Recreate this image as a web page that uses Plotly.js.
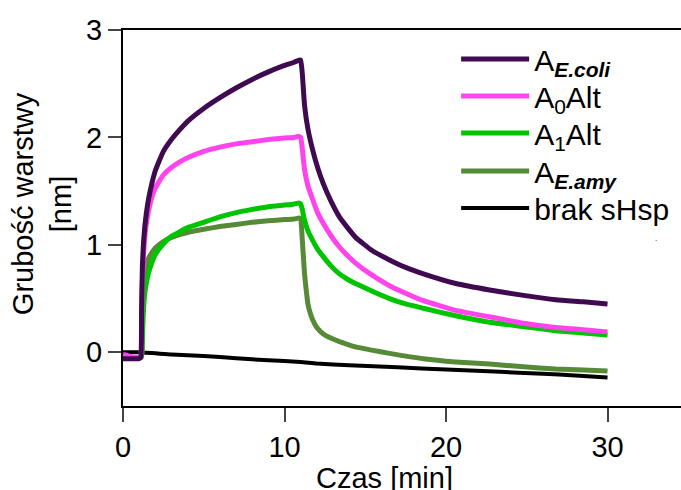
<!DOCTYPE html>
<html>
<head>
<meta charset="utf-8">
<script src="https://cdn.plot.ly/plotly-3.0.1.min.js"></script>
<style>html,body{margin:0;padding:0;background:#fff;}#chart{width:681px;height:490px;}</style>
</head>
<body>
<div id="chart"></div>
<script>
// Series names
const seriesNames = ['A<sub><b><i>E.coli</i></b></sub>', 'A<sub>0</sub>Alt', 'A<sub>1</sub>Alt', 'A<sub><b><i>E.amy</i></b></sub>', 'brak sHsp'];

// A E.coli
const tEcoli = [0, 0.5, 1.0, 1.1, 1.15, 1.2, 1.27, 1.35, 1.45, 1.6, 1.8, 2.0, 2.5, 3.0, 3.5, 4.0, 5.0, 6.0, 7.0, 8.0, 9.0, 10.0, 10.6, 10.9, 11.0, 11.1, 11.24, 11.45, 11.75, 12.05, 12.4, 12.9, 13.4, 13.9, 14.4, 15.4, 16.5, 17.5, 18.6, 20.6, 22.7, 24.8, 26.8, 28.5, 30];
const yEcoli = [-0.06, -0.06, -0.06, -0.05, 0.4, 0.8, 1.02, 1.17, 1.3, 1.44, 1.58, 1.69, 1.87, 1.98, 2.07, 2.15, 2.27, 2.37, 2.46, 2.54, 2.61, 2.67, 2.70, 2.72, 2.72, 2.6, 2.3, 2.08, 1.88, 1.72, 1.57, 1.4, 1.26, 1.16, 1.07, 0.95, 0.86, 0.79, 0.73, 0.64, 0.58, 0.53, 0.49, 0.47, 0.45];

// A0Alt
const tA0 = [0, 0.5, 1.0, 1.1, 1.15, 1.2, 1.27, 1.35, 1.45, 1.6, 1.8, 2.0, 2.5, 3.0, 3.5, 4.0, 5.0, 6.0, 7.0, 8.0, 9.0, 10.0, 10.6, 10.9, 11.0, 11.1, 11.24, 11.45, 11.75, 12.05, 12.4, 12.9, 13.4, 13.9, 14.4, 15.4, 16.5, 17.5, 18.6, 20.6, 22.7, 24.8, 26.8, 28.5, 30];
const yA0 = [-0.02, -0.04, -0.05, -0.05, 0.3, 0.65, 0.9, 1.07, 1.2, 1.33, 1.45, 1.53, 1.65, 1.72, 1.77, 1.81, 1.87, 1.91, 1.94, 1.96, 1.98, 1.995, 2.0, 2.01, 2.0, 1.9, 1.7, 1.55, 1.42, 1.3, 1.2, 1.08, 0.98, 0.9, 0.83, 0.72, 0.62, 0.55, 0.48, 0.39, 0.33, 0.27, 0.23, 0.21, 0.19];

// A1Alt
const tA1 = [0, 0.5, 1.0, 1.15, 1.2, 1.27, 1.35, 1.45, 1.6, 1.8, 2.0, 2.5, 3.0, 3.5, 4.0, 5.0, 6.0, 7.0, 8.0, 9.0, 10.0, 10.6, 10.9, 11.0, 11.1, 11.24, 11.45, 11.75, 12.05, 12.4, 12.9, 13.4, 13.9, 14.4, 15.4, 16.5, 17.5, 18.6, 20.6, 22.7, 24.8, 26.8, 28.5, 30];
const yA1 = [-0.05, -0.05, -0.05, -0.04, 0.15, 0.4, 0.55, 0.65, 0.75, 0.84, 0.91, 1.01, 1.08, 1.12, 1.16, 1.21, 1.26, 1.30, 1.33, 1.355, 1.37, 1.38, 1.39, 1.38, 1.33, 1.23, 1.13, 1.04, 0.96, 0.89, 0.8, 0.73, 0.68, 0.64, 0.57, 0.5, 0.45, 0.41, 0.34, 0.28, 0.24, 0.2, 0.18, 0.16];

// A E.amy
const tEamy = [0, 0.5, 1.0, 1.15, 1.2, 1.27, 1.35, 1.45, 1.6, 1.8, 2.0, 2.5, 3.0, 4.0, 5.0, 6.0, 7.0, 8.0, 9.0, 10.0, 10.6, 10.9, 11.0, 11.1, 11.24, 11.35, 11.45, 11.6, 11.75, 12.0, 12.4, 12.9, 13.4, 14.4, 15.4, 16.5, 18.6, 20.6, 22.7, 24.8, 26.8, 28.5, 30];
const yEamy = [-0.05, -0.05, -0.05, -0.04, 0.3, 0.6, 0.73, 0.81, 0.88, 0.93, 0.97, 1.03, 1.07, 1.115, 1.145, 1.17, 1.19, 1.21, 1.225, 1.235, 1.24, 1.25, 1.24, 1.05, 0.73, 0.57, 0.45, 0.36, 0.3, 0.23, 0.17, 0.13, 0.1, 0.05, 0.02, -0.01, -0.06, -0.09, -0.11, -0.135, -0.155, -0.165, -0.175];

// brak sHsp
const tNone = [0, 1, 3, 5, 7, 9, 11, 12, 14, 17, 20, 23, 26, 28, 30];
const yNone = [0.0, 0.0, -0.02, -0.035, -0.055, -0.075, -0.09, -0.105, -0.12, -0.14, -0.16, -0.18, -0.2, -0.215, -0.235];

const xTicks = [0, 10, 20, 30];
const yTicks = [0, 1, 2, 3];

const colors = ['#3f0a50', '#ff44ee', '#00c400', '#578a36', '#000000'];
const FONT = 'Liberation Sans, Arial, sans-serif';
const legendIds = ['legend', 'legend2', 'legend3', 'legend4', 'legend5'];

function tr(x, y, i, w) {
  return {x: x, y: y, name: seriesNames[i], type: 'scatter', mode: 'lines', legend: legendIds[i],
          line: {color: colors[i], width: w, shape: 'spline', smoothing: 0.4}};
}
// drawing order: black first, purple last (on top)
const data = [
  tr(tNone, yNone, 4, 4),
  tr(tEamy, yEamy, 3, 5),
  tr(tA1, yA1, 2, 5),
  tr(tA0, yA0, 1, 5),
  tr(tEcoli, yEcoli, 0, 5)
];

// legend row centres (pixels from top) -> paper coordinates
const rowPx = [59, 96, 133, 171, 208];
function legendAt(px) {
  return {x: 0.597, y: (406 - px) / 376, xanchor: 'left', yanchor: 'middle',
          itemwidth: 68, font: {family: FONT, size: 30, color: '#000'}, bgcolor: 'rgba(0,0,0,0)'};
}

const layout = {
  width: 681, height: 490,
  margin: {l: 123, r: 0, t: 30, b: 84},
  paper_bgcolor: '#fff', plot_bgcolor: '#fff',
  font: {family: FONT, size: 29, color: '#000'},
  showlegend: true,
  legend: legendAt(rowPx[0]),
  legend2: legendAt(rowPx[1]),
  legend3: legendAt(rowPx[2]),
  legend4: legendAt(rowPx[3]),
  legend5: legendAt(rowPx[4]),
  xaxis: {range: [0, 34.55], tickvals: xTicks, ticktext: xTicks.map(String), ticks: 'outside', ticklen: 14,
          tickwidth: 2, showline: true, linewidth: 2, linecolor: '#000', mirror: true,
          showgrid: false, zeroline: false, tickfont: {family: FONT, size: 29}},
  yaxis: {range: [-0.5, 3], tickvals: yTicks, ticktext: yTicks.map(String), ticks: 'outside', ticklen: 13,
          tickwidth: 2, showline: true, linewidth: 2, linecolor: '#000', mirror: false,
          showgrid: false, zeroline: false, tickfont: {family: FONT, size: 29}},
  annotations: [
    {text: 'Grubość warstwy<br>[nm]', xref: 'paper', yref: 'paper', x: -0.145, y: 0.537,
     xanchor: 'center', yanchor: 'middle', textangle: -90, showarrow: false,
     font: {family: FONT, size: 29, color: '#000'}},
    {text: 'Czas [min]', xref: 'paper', yref: 'paper', x: 0.468, y: -0.191,
     xanchor: 'center', yanchor: 'middle', showarrow: false,
     font: {family: FONT, size: 29, color: '#000'}},
    {text: '.', xref: 'paper', yref: 'paper', x: 0.955, y: 0.445,
     xanchor: 'center', yanchor: 'middle', showarrow: false,
     font: {family: FONT, size: 8, color: '#000'}}
  ]
};

Plotly.newPlot('chart', data, layout, {displayModeBar: false, staticPlot: true});
</script>
</body>
</html>
